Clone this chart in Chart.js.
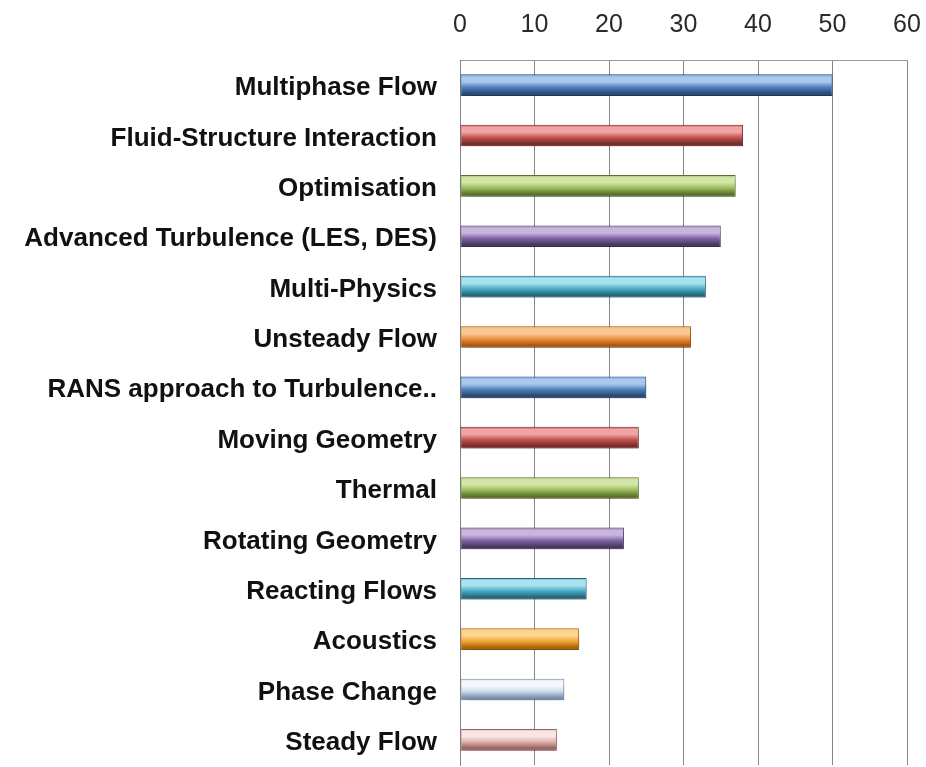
<!DOCTYPE html>
<html>
<head>
<meta charset="utf-8">
<script src="https://cdn.jsdelivr.net/npm/chart.js@4/dist/chart.umd.min.js"></script>
<style>
  html, body { margin: 0; padding: 0; background: #ffffff; }
  #wrap { width: 926px; height: 767px; }
</style>
</head>
<body>
<div id="wrap"><canvas id="c" width="926" height="767"></canvas></div>
<script>
// ---- data ----
const categories = [
  "Multiphase Flow",
  "Fluid-Structure Interaction",
  "Optimisation",
  "Advanced Turbulence (LES, DES)",
  "Multi-Physics",
  "Unsteady Flow",
  "RANS approach to Turbulence..",
  "Moving Geometry",
  "Thermal",
  "Rotating Geometry",
  "Reacting Flows",
  "Acoustics",
  "Phase Change",
  "Steady Flow"
];
const values = [50, 38, 37, 35, 33, 31, 25, 24, 24, 22, 17, 16, 14, 13];
const xTicks = [0, 10, 20, 30, 40, 50, 60];

// ---- styling palette (light, base, dark) per bar ----
const blue   = ["#a9c8ee", "#4f81bd", "#2a4a73"];
const red    = ["#f0a5a3", "#c0504d", "#772c2a"];
const green  = ["#d3e6a8", "#9bbb59", "#5a7029"];
const purple = ["#c8b6dd", "#8064a2", "#4a3761"];
const aqua   = ["#a8e2f0", "#4bacc6", "#23677a"];
const orange = ["#fbc894", "#ec8d3a", "#a9560f"];
const gold   = ["#fcd48e", "#f2a630", "#a8650a"];
const pale   = ["#f4f7fc", "#c9d7ea", "#7b8fae"];
const pink   = ["#f8e6e5", "#deb1af", "#99625f"];
const barPalette = [blue, red, green, purple, aqua, orange, blue, red, green, purple, aqua, gold, pale, pink];

const gradientPlugin = {
  id: 'barGradient',
  beforeDatasetDraw(chart, args) {
    const c = chart.ctx;
    const meta = args.meta;
    meta.data.forEach((el, i) => {
      const h = el.height;
      const top = el.y - h / 2;
      const p = barPalette[i % barPalette.length];
      const g = c.createLinearGradient(0, top, 0, top + h);
      g.addColorStop(0, p[1]);
      g.addColorStop(0.12, p[0]);
      g.addColorStop(0.35, p[0]);
      g.addColorStop(0.6, p[1]);
      g.addColorStop(0.88, p[2]);
      g.addColorStop(1, p[2]);
      el.options.backgroundColor = g;
      el.options.borderColor = p[2];
    });
    c.save();
    c.shadowColor = 'rgba(0,0,0,0.28)';
    c.shadowBlur = 7;
    c.shadowOffsetX = 2;
    c.shadowOffsetY = 5;
  },
  afterDatasetDraw(chart) {
    chart.ctx.restore();
  }
};

function zeroPad(scale) {
  scale.paddingLeft = 0; scale.paddingRight = 0;
  scale.paddingTop = 0; scale.paddingBottom = 0;
}

new Chart(document.getElementById('c'), {
  type: 'bar',
  data: {
    labels: categories,
    datasets: [{
      data: values,
      backgroundColor: barPalette.map(p => p[1]),
      borderColor: barPalette.map(p => p[2]),
      borderWidth: 1,
      borderSkipped: false,
      categoryPercentage: 1,
      barPercentage: 0.43
    }]
  },
  options: {
    indexAxis: 'y',
    responsive: false,
    animation: false,
    devicePixelRatio: 1,
    layout: { padding: { left: 0, right: 19, top: 0, bottom: 2 } },
    plugins: { legend: { display: false }, tooltip: { enabled: false } },
    scales: {
      x: {
        position: 'top',
        min: 0,
        max: 60,
        afterBuildTicks(scale) { scale.ticks = xTicks.map(v => ({ value: v })); },
        afterFit(scale) { scale.height = 60; zeroPad(scale); },
        ticks: {
          padding: 20,
          color: '#2a2a2a',
          font: { family: "'Liberation Sans', Arial, sans-serif", size: 25, weight: 'normal' }
        },
        grid: { color: '#858585', lineWidth: 1, drawTicks: false },
        border: { display: true, color: '#9a9a9a', width: 1 }
      },
      y: {
        afterFit(scale) { scale.width = 460; zeroPad(scale); },
        ticks: {
          padding: 23,
          labelOffset: 3,
          color: '#111111',
          font: { family: "'Liberation Sans', Arial, sans-serif", size: 26, weight: 'bold' }
        },
        grid: { display: false, drawTicks: false },
        border: { display: true, color: '#858585', width: 1 }
      }
    }
  },
  plugins: [gradientPlugin]
});
</script>
</body>
</html>
